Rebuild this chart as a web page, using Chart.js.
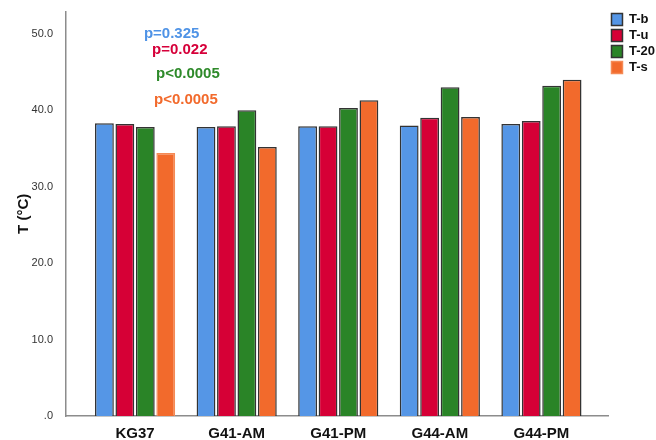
<!DOCTYPE html>
<html>
<head>
<meta charset="utf-8">
<script src="https://cdn.jsdelivr.net/npm/chart.js@4"></script>
<style>
  html, body { margin: 0; padding: 0; background: #fff; }
  #wrap { width: 656px; height: 440px; }
</style>
</head>
<body>
<div id="wrap"><canvas id="tempChart"></canvas></div>
<script>
const categories = ["KG37", "G41-AM", "G41-PM", "G44-AM", "G44-PM"];
const seriesNames = ["T-b", "T-u", "T-20", "T-s"];
const tb = [38.3, 37.8, 37.9, 38.0, 38.2];
const tu = [38.2, 37.9, 37.9, 39.0, 38.6];
const t20 = [37.8, 40.0, 40.3, 43.0, 43.2];
const ts = [34.4, 35.2, 41.3, 39.1, 44.0];
const yTicks = [0, 10, 20, 30, 40, 50];
const pTexts = ["p=0.325", "p=0.022", "p<0.0005", "p<0.0005"];

const colors = ["#5596e6", "#d60036", "#2a8427", "#f26a2c"];
const pColors = ["#4f93e6", "#d6003a", "#2e8a2a", "#f26a2c"];
const edge = "#333333";
const font = "'Liberation Sans', Arial, sans-serif";

const toPoints = (arr) => arr.map((v, i) => ({ x: i, y: v }));

// p-value labels, placed in data units of the axes
const pLabels = {
  id: "pLabels",
  afterDatasetsDraw(chart, args, opts) {
    const { ctx, scales: { x, y } } = chart;
    ctx.save();
    ctx.font = "bold 15px " + font;
    ctx.textAlign = "center";
    ctx.textBaseline = "middle";
    pTexts.forEach((t, i) => {
      const [px, py] = opts.pos[i];
      ctx.fillStyle = pColors[i];
      ctx.fillText(t, x.getPixelForValue(px), y.getPixelForValue(py));
    });
    ctx.restore();
  }
};

const ctx = document.getElementById("tempChart");
new Chart(ctx, {
  type: "bar",
  data: {
    datasets: [
      { label: seriesNames[0], data: toPoints(tb), backgroundColor: colors[0], borderColor: edge },
      { label: seriesNames[1], data: toPoints(tu), backgroundColor: colors[1], borderColor: edge },
      { label: seriesNames[2], data: toPoints(t20), backgroundColor: colors[2], borderColor: edge },
      { label: seriesNames[3], data: toPoints(ts), backgroundColor: colors[3],
        borderColor: ["#f58a55", edge, edge, edge, edge] }
    ]
  },
  options: {
    responsive: true,
    maintainAspectRatio: false,
    animation: false,
    layout: { padding: { top: 10, left: 0, right: -9, bottom: 0 } },
    datasets: {
      bar: { borderWidth: 1.5, categoryPercentage: 0.805, barPercentage: 0.92 }
    },
    scales: {
      x: {
        type: "linear",
        offset: false,
        min: -0.68,
        max: 4.66,
        afterBuildTicks: (axis) => { axis.ticks = categories.map((c, i) => ({ value: i })); },
        afterFit: (axis) => { axis.height = 24; },
        grid: { display: false },
        border: { display: true, color: "#8c8c8c", width: 1.5 },
        ticks: {
          autoSkip: false,
          maxRotation: 0,
          padding: 1,
          color: "#111",
          font: { family: font, size: 15, weight: "bold" },
          callback: (v) => categories[v]
        }
      },
      y: {
        min: 0,
        max: 52.9,
        afterBuildTicks: (axis) => { axis.ticks = yTicks.map((v) => ({ value: v })); },
        afterFit: (axis) => { axis.width = 66; },
        grid: { display: false },
        border: { display: true, color: "#8c8c8c", width: 1.5 },
        ticks: {
          padding: 5,
          color: "#333",
          font: { family: font, size: 11 },
          callback: (v) => (v === 0 ? ".0" : v.toFixed(1))
        },
        title: {
          display: true,
          text: "T (°C)",
          color: "#111",
          padding: { top: 15, bottom: 0 },
          font: { family: font, size: 15, weight: "bold" }
        }
      }
    },
    plugins: {
      legend: {
        position: "right",
        align: "start",
        labels: {
          boxWidth: 11,
          boxHeight: 12,
          padding: 3,
          color: "#111",
          font: { family: font, size: 13, weight: "bold" }
        }
      },
      tooltip: { enabled: false },
      pLabels: { pos: [[0.36, 50.0], [0.44, 47.9], [0.52, 44.8], [0.50, 41.4]] }
    }
  },
  plugins: [pLabels]
});
</script>
</body>
</html>
